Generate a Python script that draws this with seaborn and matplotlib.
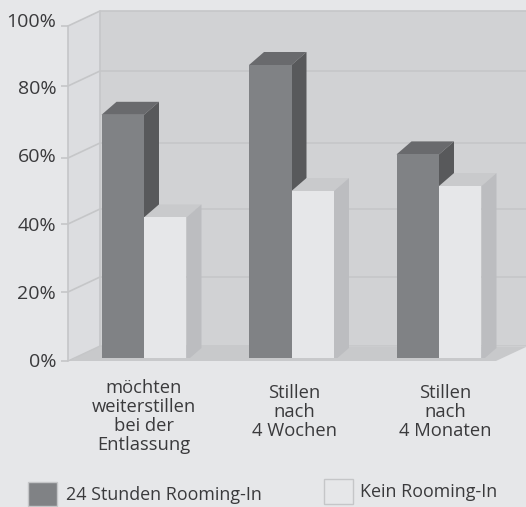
import numpy as np
import pandas as pd
import matplotlib.pyplot as plt
import seaborn as sns
from matplotlib.lines import Line2D
from matplotlib.patches import Polygon, Rectangle
from matplotlib.transforms import IdentityTransform, ScaledTranslation

categories = ['möchten\nweiterstillen\nbei der\nEntlassung', 'Stillen\nnach\n4 Wochen', 'Stillen\nnach\n4 Monaten']
series_names = ['24 Stunden Rooming-In', 'Kein Rooming-In']
rooming_24h = [72, 87, 61]
rooming_none = [42, 50, 51.5]
y_levels = [0, 20, 40, 60, 80, 100]
y_labels = ['0%', '20%', '40%', '60%', '80%', '100%']

# the printed axis is not evenly spaced, pixel height of each level above the 0 line
level_px = [0, 69, 137, 203, 275, 335]

BG = '#e6e7e9'
TEXT = '#3a3a3c'
GRID = '#c5c6c8'
WALL_BACK = '#d1d2d4'
WALL_LEFT = '#dcdde0'
FLOOR = '#c8c9cb'
# front, top, side
DARK = ('#808285', '#696a6d', '#58595b')
LIGHT = ('#e6e7e9', '#c9cacc', '#bcbdc0')

W, H = 526, 507
WALL_DX, WALL_DY = 32, 15
BAR_DX, BAR_DY = 15, 13

sns.set_theme(style='white')
plt.rcParams['font.family'] = ['Open Sans', 'DejaVu Sans']

df = pd.DataFrame({
    'kategorie': categories * 2,
    'gruppe': [series_names[0]] * 3 + [series_names[1]] * 3,
    'wert': rooming_24h + rooming_none,
})

fig = plt.figure(figsize=(W / 100, H / 100), dpi=100, facecolor=BG)
ax = fig.add_axes([68 / W, (H - 361) / H, 428 / W, 335 / H])
ax.set_facecolor('none')

sns.barplot(data=df, x='kategorie', y='wert', hue='gruppe', ax=ax, width=0.576, gap=0,
            palette=[DARK[0], LIGHT[0]], saturation=1, legend=False, zorder=2, linewidth=0)

ax.set_yscale('function', functions=(lambda v: np.interp(v, y_levels, level_px),
                                     lambda p: np.interp(p, level_px, y_levels)))
ax.set_ylim(0, 100)
ax.set_xlim((68 - 144) / 147.5, (496 - 144) / 147.5)
ax.autoscale(False)
sns.despine(ax=ax, left=True, bottom=True)
ax.set_xlabel('')
ax.set_ylabel('')
ax.set_xticks([])
ax.set_yticks(y_levels, y_labels)
ax.minorticks_off()
ax.tick_params(axis='y', left=True, length=5, width=1.2, color=GRID, labelsize=14, labelcolor=TEXT, pad=3.5)
ax.tick_params(axis='y', which='minor', left=False)

# nudge labels to where they sit in the print
label_shift = [1, 0, 0, 3, -1, 6]
for lab, s in zip(ax.get_yticklabels(), label_shift):
    lab.set_transform(lab.get_transform() + ScaledTranslation(0, s / 100, fig.dpi_scale_trans))


def add_poly(pts, color, z):
    ax.add_patch(Polygon(pts, closed=True, facecolor=color, edgecolor='none',
                         transform=IdentityTransform(), clip_on=False, zorder=z))


def add_line(pts, lw=1.2):
    xs, ys = zip(*pts)
    ax.add_line(Line2D(xs, ys, color=GRID, lw=lw, transform=IdentityTransform(),
                       clip_on=False, zorder=0.8))


# walls and floor
x0 = ax.transData.transform((ax.get_xlim()[0], 0))[0]
x1 = ax.transData.transform((ax.get_xlim()[1], 0))[0]
ys = {v: ax.transData.transform((0, v))[1] for v in y_levels}
y_bot, y_top = ys[0], ys[100]
add_poly([(x0 + WALL_DX, y_bot + WALL_DY), (W, y_bot + WALL_DY), (W, y_top + WALL_DY), (x0 + WALL_DX, y_top + WALL_DY)], WALL_BACK, 0.5)
add_poly([(x0, y_bot), (x0 + WALL_DX, y_bot + WALL_DY), (x0 + WALL_DX, y_top + WALL_DY), (x0, y_top)], WALL_LEFT, 0.5)
add_poly([(x0, y_bot), (x1, y_bot), (W, y_bot + WALL_DY - 1), (x0 + WALL_DX, y_bot + WALL_DY)], FLOOR, 0.6)
for v in y_levels[1:]:
    y = ys[v]
    add_line([(x0, y), (x0 + WALL_DX, y + WALL_DY), (W, y + WALL_DY)])
add_line([(x0, y_bot), (x0 + WALL_DX, y_bot + WALL_DY), (W, y_bot + WALL_DY)], lw=1)
add_line([(x0, y_bot), (x0, y_top)], lw=1.2)
add_line([(x0 + WALL_DX, y_bot + WALL_DY), (x0 + WALL_DX, y_top + WALL_DY)], lw=1.2)

# depth faces of the bars, dark ones first so the light tops overlap them
for cont, faces, z in zip(ax.containers, (DARK, LIGHT), (1.1, 1.2)):
    for bar in cont:
        (xa, ya), (xb, yb) = ax.transData.transform(
            [(bar.get_x(), 0), (bar.get_x() + bar.get_width(), bar.get_height())])
        add_poly([(xa, yb), (xb, yb), (xb + BAR_DX, yb + BAR_DY), (xa + BAR_DX, yb + BAR_DY)], faces[1], z)
        add_poly([(xb, ya), (xb + BAR_DX, ya + BAR_DY), (xb + BAR_DX, yb + BAR_DY), (xb, yb)], faces[2], z)

# bars stand slightly behind the front edge of the floor
add_poly([(x0 + 6, y_bot), (x1 - 6, y_bot), (x1 - 6, y_bot + 3), (x0 + 6, y_bot + 3)], FLOOR, 3)

# category labels, the first one has four lines and starts higher
label_x = [0, 1.02, 2.04]
label_drop = [18, 23, 23]
for lx, drop, txt in zip(label_x, label_drop, categories):
    ax.annotate(txt, xy=(lx, 0), xycoords='data', xytext=(0, -drop), textcoords='offset pixels',
                ha='center', va='top', fontsize=13.2, color=TEXT, linespacing=1.06, annotation_clip=False)

# legend
fig.add_artist(Rectangle((28 / W, (H - 506) / H), 29 / W, 24 / H, transform=fig.transFigure,
                         facecolor=DARK[0], edgecolor=GRID, lw=1))
fig.add_artist(Rectangle((323.5 / W, (H - 504) / H), 29 / W, 25 / H, transform=fig.transFigure,
                         facecolor=LIGHT[0], edgecolor=GRID, lw=1))
fig.text(66 / W, (H - 495.5) / H, series_names[0], ha='left', va='center', fontsize=12.9, color=TEXT)
fig.text(360 / W, (H - 492) / H, series_names[1], ha='left', va='center', fontsize=12.9, color=TEXT)

fig.savefig('out.png', dpi=100, facecolor=BG)
